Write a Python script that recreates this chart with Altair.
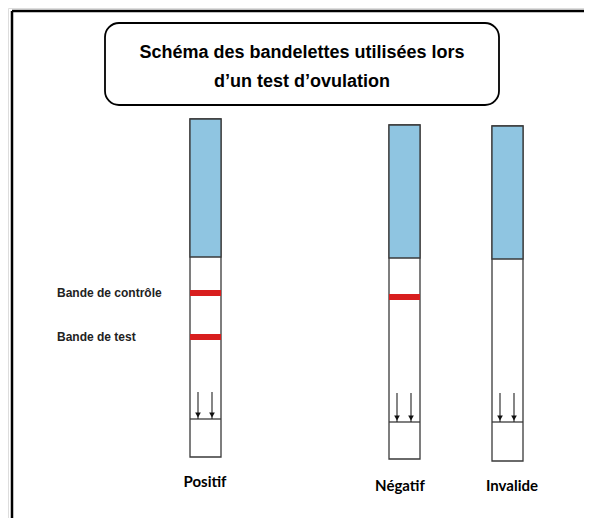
import altair as alt
import pandas as pd

# --- diagram data (page-pixel coordinate system, 592 x 526) ---
strip_names = ["Positif", "Négatif", "Invalide"]
strip_left = [190, 389, 492]
strip_right = [221, 420, 523]
strip_top = [119, 125, 126]
blue_bottom = [257, 258, 259]
sample_line = [419, 422, 422]
strip_bottom = [457, 459, 461]
arrow_top = [392, 393, 393]
arrow_x1 = [198, 397, 500]
arrow_x2 = [212, 411, 514]
label_x = [205, 400, 512]
label_y = [482, 486, 486]

band_strip = ["Positif", "Positif", "Négatif"]
band_y = [293, 337, 297]

side_labels = ["Bande de contrôle", "Bande de test"]
side_label_y = [293, 337]

title_lines = ["Schéma des bandelettes utilisées lors", "d\u2019un test d\u2019ovulation"]
title_line_y = [53, 82]

W, H = 576, 510
OFF = 8

def X(field):
    return alt.X(field, type="quantitative", scale=alt.Scale(domain=[OFF, OFF + W]), axis=None)

def Y(field):
    return alt.Y(field, type="quantitative", scale=alt.Scale(domain=[OFF, OFF + H], reverse=True), axis=None)

def X2(field):
    return alt.X2(field)

def Y2(field):
    return alt.Y2(field)

strips = pd.DataFrame({
    "name": strip_names, "l": strip_left, "r": strip_right, "top": strip_top,
    "bb": blue_bottom, "sl": sample_line, "bot": strip_bottom, "at": arrow_top,
    "a1": arrow_x1, "a2": arrow_x2, "lx": label_x, "ly": label_y,
})
arrows = pd.concat([
    pd.DataFrame({"x": arrow_x1, "y1": arrow_top, "y2": sample_line}),
    pd.DataFrame({"x": arrow_x2, "y1": arrow_top, "y2": sample_line}),
])
pos = dict(zip(strip_names, zip(strip_left, strip_right)))
bands = pd.DataFrame({
    "l": [pos[s][0] for s in band_strip],
    "r": [pos[s][1] for s in band_strip],
    "y": band_y,
})
side = pd.DataFrame({"t": side_labels, "y": side_label_y, "x": [57, 57]})
titles = pd.DataFrame({"t": title_lines, "y": title_line_y, "x": [302, 302]})

stroke = "#3a3a3a"

frame = pd.DataFrame({
    "x1": [12, 12, 588], "x2": [588, 12, 588],
    "y1": [11, 11, 11], "y2": [11, 530, 530],
})
frame_m = alt.Chart(frame).mark_rule(color="black", strokeWidth=2.5, clip=True).encode(
    x=X("x1"), x2=X2("x2"), y=Y("y1"), y2=Y2("y2"))

title_box = alt.Chart(pd.DataFrame({"a": [105], "b": [499], "c": [23], "d": [105]})).mark_rect(
    fill="white", stroke="black", strokeWidth=1.8, cornerRadius=14).encode(
    x=X("a"), x2=X2("b"), y=Y("c"), y2=Y2("d"))

title_text = alt.Chart(titles).mark_text(
    font="Liberation Sans", fontWeight="bold", fontSize=18, color="black", baseline="middle").encode(
    x=X("x"), y=Y("y"), text="t:N")

strip_outline = alt.Chart(strips).mark_rect(fill="white", stroke=stroke, strokeWidth=1.3).encode(
    x=X("l"), x2=X2("r"), y=Y("top"), y2=Y2("bot"))

blue = alt.Chart(strips).mark_rect(fill="#8fc5e1", stroke=stroke, strokeWidth=1.3).encode(
    x=X("l"), x2=X2("r"), y=Y("top"), y2=Y2("bb"))

sample = alt.Chart(strips).mark_rule(color=stroke, strokeWidth=1.3).encode(
    x=X("l"), x2=X2("r"), y=Y("sl"))

band_m = alt.Chart(bands).mark_rule(color="#d81e1e", strokeWidth=6).encode(
    x=X("l"), x2=X2("r"), y=Y("y"))

arrow_shaft = alt.Chart(arrows).mark_rule(color="#222", strokeWidth=1.1).encode(
    x=X("x"), y=Y("y1"), y2=Y2("y2"))
arrow_head = alt.Chart(arrows).mark_point(shape="triangle-down", filled=True, color="#111", size=32, opacity=1, yOffset=-4).encode(
    x=X("x"), y=Y("y2"))

side_text = alt.Chart(side).mark_text(
    font="Liberation Sans", fontWeight="bold", fontSize=12, color="#222", align="left", baseline="middle").encode(
    x=X("x"), y=Y("y"), text="t:N")

strip_label = alt.Chart(strips).mark_text(
    font="Lato", fontWeight="bold", fontSize=15, color="black", baseline="middle").encode(
    x=X("lx"), y=Y("ly"), text="name:N")

chart = alt.layer(
    frame_m, title_box, title_text, strip_outline, blue, sample, band_m,
    arrow_shaft, arrow_head, side_text, strip_label
).properties(width=W, height=H, padding=0, autosize=alt.AutoSizeParams(type="none")
).configure_view(stroke=None).configure(background="white")

chart.save("out.html", embed_options={"renderer": "svg", "actions": False})
